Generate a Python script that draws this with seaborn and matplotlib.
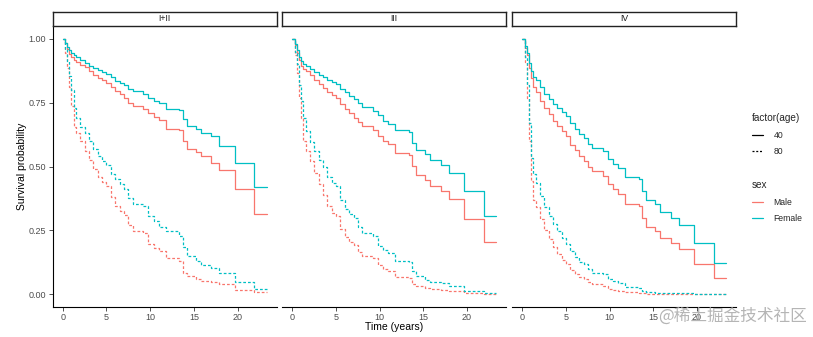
import numpy as np
import pandas as pd
import matplotlib
matplotlib.use("Agg")
import matplotlib.pyplot as plt
from matplotlib.lines import Line2D
import seaborn as sns

# ---------------- data ----------------
stages = ["I+II", "III", "IV"]
sexes = ["Male", "Female"]
ages = ["40", "80"]
times = [0, 0.25, 0.5, 0.75, 1.0, 1.25, 1.5, 2.0, 2.5, 3.0, 3.5, 4.0, 4.5, 5.0,
         5.5, 6.0, 6.5, 7.0, 7.5, 8.0, 9.2, 9.8, 10.4, 11.0, 11.8, 13.3, 13.7,
         14.2, 15.2, 15.8, 17.0, 17.9, 19.7, 21.9, 23.3]

s1_male_40 = [1, 0.982, 0.96, 0.942, 0.928, 0.917, 0.91, 0.898, 0.888, 0.874, 0.86, 0.848, 0.838, 0.828,
              0.812, 0.795, 0.782, 0.768, 0.75, 0.737, 0.724, 0.71, 0.695, 0.682, 0.648, 0.642, 0.60,
              0.57, 0.558, 0.54, 0.515, 0.485, 0.41, 0.316, 0.316]
s1_female_40 = [1, 0.985, 0.968, 0.955, 0.943, 0.935, 0.928, 0.915, 0.904, 0.895, 0.886, 0.878, 0.87, 0.862,
                0.85, 0.836, 0.826, 0.818, 0.805, 0.795, 0.782, 0.77, 0.757, 0.748, 0.724, 0.72, 0.684,
                0.658, 0.648, 0.63, 0.62, 0.58, 0.512, 0.419, 0.419]
s1_male_80 = [1, 0.945, 0.887, 0.81, 0.735, 0.655, 0.63, 0.60, 0.56, 0.525, 0.49, 0.46, 0.44, 0.425,
              0.38, 0.345, 0.325, 0.31, 0.27, 0.248, 0.241, 0.196, 0.18, 0.168, 0.141, 0.13, 0.085,
              0.072, 0.058, 0.05, 0.046, 0.039, 0.016, 0.009, 0.009]
s1_female_80 = [1, 0.96, 0.913, 0.855, 0.80, 0.73, 0.69, 0.655, 0.63, 0.60, 0.57, 0.54, 0.52, 0.505,
                0.47, 0.45, 0.43, 0.41, 0.375, 0.352, 0.345, 0.306, 0.285, 0.265, 0.248, 0.228, 0.183,
                0.15, 0.13, 0.115, 0.104, 0.085, 0.046, 0.02, 0.02]

s2_male_40 = [1, 0.975, 0.945, 0.915, 0.893, 0.88, 0.874, 0.857, 0.84, 0.823, 0.806, 0.79, 0.778, 0.769,
              0.745, 0.726, 0.71, 0.691, 0.673, 0.658, 0.641, 0.62, 0.60, 0.589, 0.554, 0.545, 0.502,
              0.467, 0.446, 0.424, 0.404, 0.372, 0.296, 0.206, 0.206]
s2_female_40 = [1, 0.98, 0.955, 0.93, 0.913, 0.90, 0.893, 0.882, 0.87, 0.86, 0.85, 0.84, 0.83, 0.821,
                0.805, 0.79, 0.776, 0.763, 0.748, 0.733, 0.717, 0.70, 0.68, 0.668, 0.641, 0.635, 0.593,
                0.563, 0.548, 0.524, 0.505, 0.476, 0.404, 0.306, 0.306]
s2_male_80 = [1, 0.935, 0.865, 0.77, 0.691, 0.60, 0.56, 0.52, 0.475, 0.43, 0.39, 0.345, 0.318, 0.306,
              0.255, 0.225, 0.205, 0.192, 0.165, 0.15, 0.143, 0.115, 0.10, 0.091, 0.068, 0.062, 0.039,
              0.033, 0.024, 0.02, 0.017, 0.013, 0.004, 0.001, 0.001]
s2_female_80 = [1, 0.95, 0.90, 0.82, 0.756, 0.69, 0.64, 0.595, 0.56, 0.525, 0.497, 0.46, 0.435, 0.424,
                0.37, 0.335, 0.315, 0.30, 0.265, 0.241, 0.228, 0.19, 0.175, 0.163, 0.13, 0.125, 0.089,
                0.072, 0.055, 0.046, 0.042, 0.033, 0.013, 0.004, 0.004]

s3_male_40 = [1, 0.965, 0.935, 0.885, 0.847, 0.81, 0.79, 0.758, 0.73, 0.706, 0.68, 0.658, 0.638, 0.619,
              0.585, 0.563, 0.54, 0.522, 0.50, 0.482, 0.463, 0.43, 0.41, 0.391, 0.355, 0.345, 0.30,
              0.263, 0.248, 0.222, 0.202, 0.179, 0.12, 0.063, 0.063]
s3_female_40 = [1, 0.97, 0.945, 0.905, 0.874, 0.85, 0.838, 0.81, 0.785, 0.765, 0.745, 0.73, 0.713, 0.698,
                0.67, 0.648, 0.628, 0.613, 0.59, 0.574, 0.561, 0.53, 0.51, 0.495, 0.459, 0.45, 0.404,
                0.368, 0.352, 0.322, 0.30, 0.27, 0.202, 0.124, 0.124]
s3_male_80 = [1, 0.91, 0.77, 0.60, 0.443, 0.37, 0.34, 0.295, 0.25, 0.215, 0.185, 0.156, 0.135, 0.117,
              0.095, 0.08, 0.068, 0.059, 0.047, 0.039, 0.033, 0.022, 0.017, 0.013, 0.007, 0.006, 0.003,
              0.002, 0.0015, 0.001, 0.001, 0.001, 0.0003, 0.0001, 0.0001]
s3_female_80 = [1, 0.93, 0.82, 0.67, 0.535, 0.47, 0.435, 0.385, 0.34, 0.305, 0.275, 0.248, 0.22, 0.196,
                0.168, 0.145, 0.128, 0.117, 0.10, 0.085, 0.081, 0.06, 0.05, 0.042, 0.03, 0.026, 0.013,
                0.01, 0.006, 0.005, 0.004, 0.003, 0.001, 0.0005, 0.0005]

curves = {
    ("I+II", "Male", "40"): s1_male_40, ("I+II", "Female", "40"): s1_female_40,
    ("I+II", "Male", "80"): s1_male_80, ("I+II", "Female", "80"): s1_female_80,
    ("III", "Male", "40"): s2_male_40, ("III", "Female", "40"): s2_female_40,
    ("III", "Male", "80"): s2_male_80, ("III", "Female", "80"): s2_female_80,
    ("IV", "Male", "40"): s3_male_40, ("IV", "Female", "40"): s3_female_40,
    ("IV", "Male", "80"): s3_male_80, ("IV", "Female", "80"): s3_female_80,
}

rows = []
for (stg, sx, ag), vals in curves.items():
    for t, v in zip(times, vals):
        rows.append({"stage": stg, "sex": sx, "age": ag, "time": t, "surv": v})
df = pd.DataFrame(rows)

x_ticks = [0, 5, 10, 15, 20]
y_ticks = [0.0, 0.25, 0.50, 0.75, 1.00]
y_tick_labels = ["0.00", "0.25", "0.50", "0.75", "1.00"]

# ---------------- style ----------------
sns.set_theme(style="white")
plt.rcParams["font.family"] = ["Liberation Sans", "DejaVu Sans"]

palette = {"Male": "#F8766D", "Female": "#00BFC4"}
dash_map = {"40": "", "80": (2.2, 1.6)}

W, H = 813, 337
fig = plt.figure(figsize=(W / 100, H / 100), dpi=100)

panel_x = [(52.5, 276.7), (282.3, 506.0), (512.3, 736.0)]
top_px, bot_px = 26.0, 307.0
strip_top = 11.7

for i, (stg, (x0, x1)) in enumerate(zip(stages, panel_x)):
    ax = fig.add_axes([x0 / W, 1 - bot_px / H, (x1 - x0) / W, (bot_px - top_px) / H])
    sub = df[df["stage"] == stg]
    sns.lineplot(data=sub, x="time", y="surv", hue="sex", style="age",
                 hue_order=sexes, style_order=ages, palette=palette,
                 dashes=dash_map, estimator=None, sort=False,
                 drawstyle="steps-post", linewidth=0.9, legend=False, ax=ax)
    ax.set_xlim(-1.165, 24.465)
    ax.set_ylim(-0.05, 1.05)
    ax.set_xticks(x_ticks)
    ax.set_xticklabels([str(v) for v in x_ticks])
    ax.set_xlabel("")
    ax.set_ylabel("")
    for s in ["top", "right"]:
        ax.spines[s].set_visible(False)
    ax.spines["bottom"].set_color("black")
    ax.spines["bottom"].set_linewidth(0.8)
    ax.tick_params(axis="x", length=3, width=0.6, color="#333333",
                   labelsize=6.5, labelcolor="#4D4D4D", pad=1.5, bottom=True)
    if i == 0:
        ax.set_yticks(y_ticks)
        ax.set_yticklabels(y_tick_labels)
        ax.spines["left"].set_color("black")
        ax.spines["left"].set_linewidth(0.8)
        ax.tick_params(axis="y", length=3, width=0.6, color="#333333",
                       labelsize=6.5, labelcolor="#4D4D4D", pad=1.5, left=True)
        ax.set_ylabel("Survival probability", fontsize=7.5, color="black", labelpad=1)
    else:
        ax.spines["left"].set_visible(False)
        ax.set_yticks(y_ticks)
        ax.tick_params(axis="y", left=False, labelleft=False)
    ax.grid(False)
    ax.set_facecolor("white")

    # strip
    sax = fig.add_axes([x0 / W, 1 - top_px / H, (x1 - x0) / W, (top_px - strip_top) / H])
    sax.set_xticks([])
    sax.set_yticks([])
    sax.set_facecolor("white")
    for s in sax.spines.values():
        s.set_visible(True)
        s.set_color("#222222")
        s.set_linewidth(1.0)
    sax.text(0.5, 0.5, stg, ha="center", va="center", fontsize=6.2, color="#1A1A1A",
             transform=sax.transAxes)

fig.text((282.3 + 506.0) / 2 / W, 1 - 327.5 / H, "Time (years)", ha="center", va="center",
         fontsize=7.5, color="black")

# legends
age_handles = [Line2D([0], [0], color="black", lw=0.9, linestyle="-"),
               Line2D([0], [0], color="black", lw=0.9, linestyle=(0, (1.6, 1.4)))]
common = dict(loc="upper left", frameon=False, fontsize=6.2, title_fontsize=7.2,
              handlelength=1.3, handletextpad=1.2, labelspacing=0.86,
              alignment="left", borderaxespad=0)
leg1 = fig.legend(age_handles, ages, title="factor(age)",
                  bbox_to_anchor=(748.5 / W, 1 - 110 / H), **common)
sex_handles = [Line2D([0], [0], color=palette[s], lw=0.9) for s in sexes]
leg2 = fig.legend(sex_handles, sexes, title="sex",
                  bbox_to_anchor=(748.5 / W, 1 - 177 / H), **common)

# watermark
fig.text(807 / W, 1 - 316 / H, "@稀土掘金技术社区", ha="right", va="center", fontsize=12,
         color="#A8A8A8", alpha=0.85, family=["Noto Sans CJK SC", "DejaVu Sans"])

fig.savefig("out.png", dpi=100, facecolor="white")
